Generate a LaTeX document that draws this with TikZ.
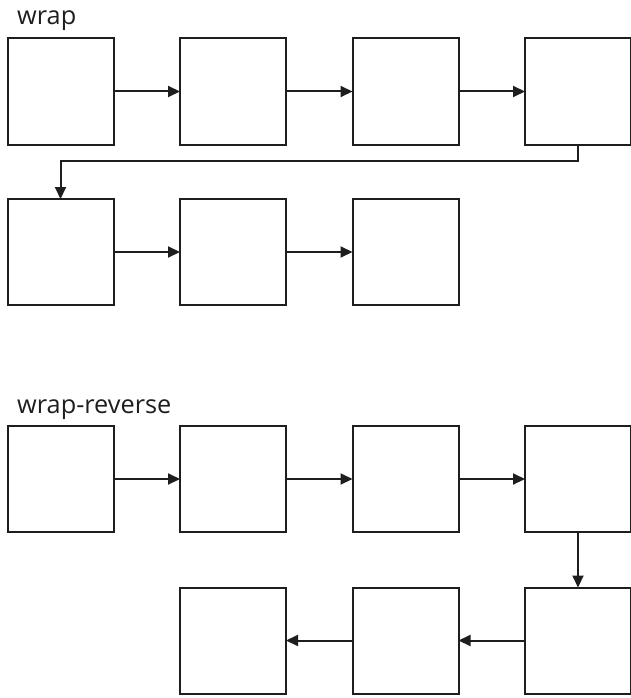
\documentclass[tikz,border=0pt]{standalone}
\usepackage{fontspec}
\setmainfont{Open Sans}
\usetikzlibrary{arrows.meta}
\definecolor{ln}{HTML}{1E1E1E}
\begin{document}
\begin{tikzpicture}[x=1pt,y=-1pt,
  box/.style={draw=ln,line width=2pt,fill=white,minimum width=106pt,minimum height=106pt,inner sep=0pt,outer sep=0pt},
  conn/.style={draw=ln,line width=2pt,-{Triangle[length=12pt,width=11pt]}},
  lbl/.style={anchor=base west,inner sep=0pt,font=\fontsize{25.3}{29}\selectfont,text=ln}]
\useasboundingbox (0,0) rectangle (630,698);
\node[lbl] (t1) at (17,25) {wrap};
\node[box] (a1) at (60.5,91.5) {};
\node[box] (a2) at (233,91.5) {};
\node[box] (a3) at (405.5,91.5) {};
\node[box] (a4) at (578,91.5) {};
\node[box] (a5) at (60.5,252) {};
\node[box] (a6) at (233,252) {};
\node[box] (a7) at (405.5,252) {};
\draw[conn] (a1) -- (a2);
\draw[conn] (a2) -- (a3);
\draw[conn] (a3) -- (a4);
\draw[conn] (a4.south) -- ++(0,16) -| (a5.north);
\draw[conn] (a5) -- (a6);
\draw[conn] (a6) -- (a7);
\node[lbl] (t2) at (17,413) {wrap-reverse};
\node[box] (b1) at (60.5,479) {};
\node[box] (b2) at (233,479) {};
\node[box] (b3) at (405.5,479) {};
\node[box] (b4) at (578,479) {};
\node[box] (b5) at (578,640.5) {};
\node[box] (b6) at (405.5,640.5) {};
\node[box] (b7) at (233,640.5) {};
\draw[conn] (b1) -- (b2);
\draw[conn] (b2) -- (b3);
\draw[conn] (b3) -- (b4);
\draw[conn] (b4) -- (b5);
\draw[conn] (b5) -- (b6);
\draw[conn] (b6) -- (b7);
\end{tikzpicture}
\end{document}
